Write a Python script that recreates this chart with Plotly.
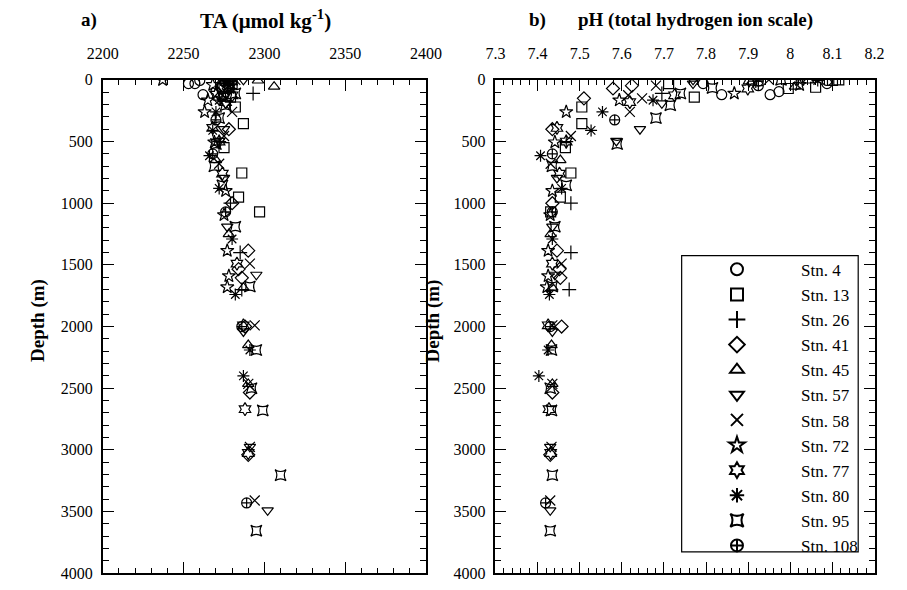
import plotly.graph_objects as go

W, H = 907, 590

stations = ["Stn. 4", "Stn. 13", "Stn. 26", "Stn. 41", "Stn. 45", "Stn. 57",
            "Stn. 58", "Stn. 72", "Stn. 77", "Stn. 80", "Stn. 95", "Stn. 108"]
symbols = ["circle-open", "square-open", "cross-thin-open", "diamond-open",
           "triangle-up-open", "triangle-down-open", "x-thin-open", "star-open",
           "hexagram-open", "asterisk-open", "star-square-open", "circle-cross-open"]

# ---- data per station: depth (m), TA (umol/kg), pH (total scale) ----
stn4_depth = [5, 30, 30, 95, 120, 120]
stn4_ta = [2260, 2253, 2257, 2270, 2275, 2262]
stn4_ph = [8.087, 8.087, 7.793, 7.973, 7.952, 7.837]

stn13_depth = [0, 5, 30, 60, 70, 140, 220, 355, 550, 755, 950, 1070]
stn13_ta = [2278, 2276, 2280, 2275, 2274, 2279, 2282, 2287, 2275, 2286, 2284, 2297]
stn13_ph = [8.115, 8.1, 7.711, 8.06, 7.995, 7.772, 7.505, 7.505, 7.466, 7.479, 7.454, 7.431]

stn26_depth = [10, 110, 500, 1000, 1400, 1700]
stn26_ta = [2278, 2293, 2272, 2279, 2285, 2286]
stn26_ph = [7.918, 7.695, 7.468, 7.479, 7.479, 7.475]

stn41_depth = [47, 70, 150, 400, 1000, 1385, 1535, 1605, 2000, 2535, 3040]
stn41_ta = [2274, 2278, 2272, 2278, 2280, 2290, 2284, 2286, 2288, 2291, 2290]
stn41_ph = [7.624, 7.579, 7.51, 7.435, 7.435, 7.446, 7.452, 7.454, 7.457, 7.435, 7.43]

stn45_depth = [5, 55, 650, 1250, 1685, 2150, 2465]
stn45_ta = [2296, 2306, 2270, 2278, 2287, 2290, 2290]
stn45_ph = [8.043, 8.011, 7.454, 7.431, 7.435, 7.433, 7.435]

stn57_depth = [0, 30, 190, 400, 495, 795, 1190, 1580, 2040, 2975, 3490]
stn57_ta = [2287, 2280, 2276, 2275, 2272, 2275, 2277, 2295, 2287, 2291, 2302]
stn57_ph = [7.769, 7.769, 7.695, 7.643, 7.587, 7.446, 7.435, 7.441, 7.435, 7.43, 7.43]

stn58_depth = [0, 47, 125, 150, 260, 455, 680, 1490, 1990, 2465, 2975, 3410]
stn58_ta = [2282, 2278, 2274, 2276, 2280, 2275, 2272, 2291, 2294, 2290, 2291, 2294]
stn58_ph = [7.949, 7.681, 7.615, 7.648, 7.619, 7.479, 7.431, 7.457, 7.435, 7.435, 7.433, 7.43]

stn72_depth = [0, 40, 110, 165, 260, 505, 900, 1095, 1385, 1590, 1680]
stn72_ta = [2237, 2268, 2270, 2265, 2263, 2269, 2276, 2275, 2277, 2278, 2277]
stn72_ph = [8.022, 8.022, 7.867, 7.594, 7.468, 7.441, 7.435, 7.43, 7.425, 7.425, 7.422]

stn77_depth = [5, 70, 125, 180, 390, 500, 760, 1490, 1990, 2670, 3025]
stn77_ta = [2274, 2278, 2280, 2276, 2268, 2272, 2274, 2283, 2287, 2288, 2290]
stn77_ph = [7.902, 7.899, 7.725, 7.619, 7.446, 7.468, 7.452, 7.435, 7.425, 7.427, 7.431]

stn80_depth = [5, 165, 260, 410, 615, 880, 1290, 1740, 2190, 2400]
stn80_ta = [2276, 2272, 2270, 2268, 2266, 2272, 2280, 2282, 2291, 2287]
stn80_ph = [8.065, 7.674, 7.554, 7.527, 7.407, 7.457, 7.435, 7.428, 7.425, 7.403]

stn95_depth = [0, 65, 110, 205, 310, 520, 700, 855, 1190, 1675, 2190, 2500, 2680, 3205, 3655]
stn95_ta = [2280, 2278, 2282, 2276, 2272, 2270, 2269, 2274, 2282, 2291, 2295, 2292, 2299, 2310, 2295]
stn95_ph = [7.978, 7.815, 7.739, 7.715, 7.681, 7.589, 7.435, 7.468, 7.441, 7.435, 7.433, 7.43, 7.433, 7.435, 7.43]

stn108_depth = [10, 47, 325, 600, 1070, 2000, 3430]
stn108_ta = [2275, 2278, 2270, 2268, 2276, 2286, 2289]
stn108_ph = [7.924, 7.924, 7.583, 7.435, 7.435, 7.43, 7.419]

depths = [stn4_depth, stn13_depth, stn26_depth, stn41_depth, stn45_depth, stn57_depth,
          stn58_depth, stn72_depth, stn77_depth, stn80_depth, stn95_depth, stn108_depth]
tas = [stn4_ta, stn13_ta, stn26_ta, stn41_ta, stn45_ta, stn57_ta,
       stn58_ta, stn72_ta, stn77_ta, stn80_ta, stn95_ta, stn108_ta]
phs = [stn4_ph, stn13_ph, stn26_ph, stn41_ph, stn45_ph, stn57_ph,
       stn58_ph, stn72_ph, stn77_ph, stn80_ph, stn95_ph, stn108_ph]

ta_ticks = [2200, 2250, 2300, 2350, 2400]
ph_ticks = [7.3, 7.4, 7.5, 7.6, 7.7, 7.8, 7.9, 8.0, 8.1, 8.2]
ph_ticklabels = ["7.3", "7.4", "7.5", "7.6", "7.7", "7.8", "7.9", "8", "8.1", "8.2"]
depth_ticks = [0, 500, 1000, 1500, 2000, 2500, 3000, 3500, 4000]

FONT = "Liberation Serif, Times New Roman, serif"

def px(x):
    return x / W

def py(y):
    return 1 - y / H

fig = go.Figure()
for i, name in enumerate(stations):
    mk = dict(symbol=symbols[i], size=10, color="black", line=dict(width=1.2, color="black"))
    fig.add_trace(go.Scatter(x=tas[i], y=depths[i], mode="markers", marker=mk,
                             name=name, legendgroup=name, showlegend=False,
                             xaxis="x", yaxis="y", hoverinfo="skip"))
    fig.add_trace(go.Scatter(x=phs[i], y=depths[i], mode="markers", marker=mk,
                             name=name, legendgroup=name, showlegend=True,
                             xaxis="x2", yaxis="y2", hoverinfo="skip"))

axis_common = dict(showline=True, linecolor="black", linewidth=1.5, mirror="ticks",
                   ticks="inside", tickcolor="black", tickwidth=1.2, showgrid=False,
                   zeroline=False, ticklabeloverflow="allow",
                   tickfont=dict(family=FONT, size=16, color="black"))

fig.update_layout(
    width=W, height=H, margin=dict(l=0, r=0, t=0, b=0),
    paper_bgcolor="white", plot_bgcolor="white", showlegend=True,
    xaxis=dict(domain=[px(90), px(425)], range=[2200, 2400], side="top",
               tickvals=ta_ticks, ticklen=11, ticklabelstandoff=13,
               minor=dict(dtick=10, ticklen=5, tickcolor="black", ticks="inside", tickwidth=1),
               anchor="y", **axis_common),
    yaxis=dict(domain=[py(582), py(74)], range=[4000, 0], tickvals=depth_ticks,
               ticklen=11, ticklabelstandoff=5,
               minor=dict(dtick=100, ticklen=6, tickcolor="black", ticks="inside", tickwidth=1),
               anchor="x", **axis_common),
    xaxis2=dict(domain=[px(497), px(890)], range=[7.3, 8.2], side="top",
                tickvals=ph_ticks, ticktext=ph_ticklabels, ticklen=11, ticklabelstandoff=13,
                minor=dict(dtick=0.02, tick0=7.3, ticklen=5, tickcolor="black", ticks="inside", tickwidth=1),
                anchor="y2", **axis_common),
    yaxis2=dict(domain=[py(582), py(74)], range=[4000, 0], tickvals=depth_ticks,
                ticklen=11, ticklabelstandoff=5,
                minor=dict(dtick=100, ticklen=6, tickcolor="black", ticks="inside", tickwidth=1),
                anchor="x2", **axis_common),
    legend=dict(x=px(681), y=py(251), xanchor="left", yanchor="top",
                font=dict(family=FONT, size=17, color="black"),
                itemwidth=118, itemsizing="constant", traceorder="normal",
                bgcolor="rgba(0,0,0,0)", borderwidth=0),
)

fig.add_shape(type="rect", xref="paper", yref="paper",
              x0=px(690), x1=px(873), y0=py(560), y1=py(255),
              line=dict(color="black", width=1.2), fillcolor="rgba(0,0,0,0)", layer="above")

ann = [
    dict(text="<b>a)</b>", x=px(76), y=py(12), size=19),
    dict(text="<b>TA (μmol kg<sup>-1</sup>)</b>", x=px(259), y=py(12), size=21),
    dict(text="<b>b)</b>", x=px(541), y=py(12), size=19),
    dict(text="<b>pH (total hydrogen ion scale)</b>", x=px(704), y=py(12), size=19),
]
for a in ann:
    fig.add_annotation(text=a["text"], x=a["x"], y=a["y"], xref="paper", yref="paper",
                       showarrow=False, xanchor="center", yanchor="middle",
                       font=dict(family=FONT, size=a["size"], color="black"))
for xc in [22, 432]:
    fig.add_annotation(text="<b>Depth (m)</b>", x=px(xc), y=py(322), xref="paper", yref="paper",
                       showarrow=False, textangle=-90, xanchor="center", yanchor="middle",
                       font=dict(family=FONT, size=19, color="black"))

fig.write_html("out.html", config={"displayModeBar": False},
               post_script="document.body.style.margin='0px';document.body.style.overflow='hidden';")
